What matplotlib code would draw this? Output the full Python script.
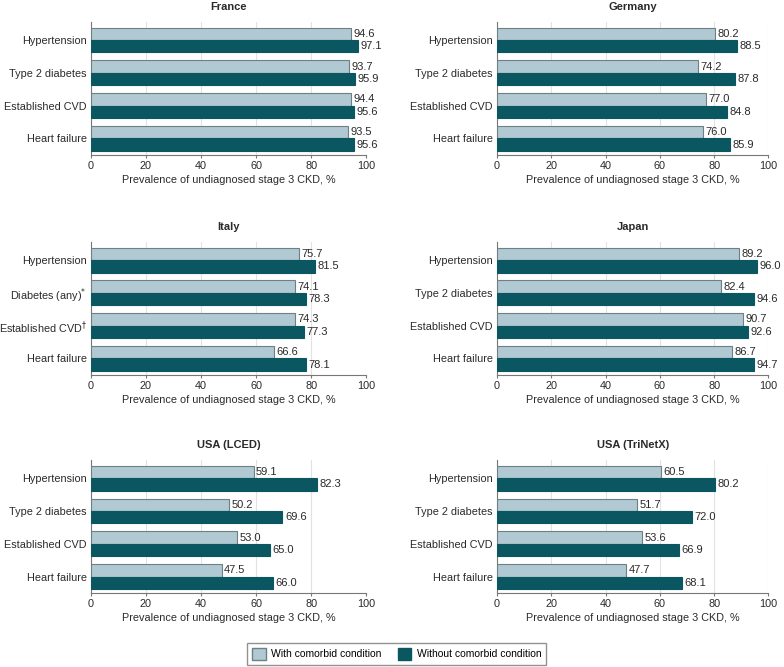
import matplotlib.pyplot as plt
from matplotlib.patches import Patch
import numpy as np

plt.rcParams['font.family'] = ['Liberation Sans', 'DejaVu Sans']

# data section
countries = ['France', 'Germany', 'Italy', 'Japan', 'USA (LCED)', 'USA (TriNetX)']
std_labels = ['Hypertension', 'Type 2 diabetes', 'Established CVD', 'Heart failure']
italy_labels = ['Hypertension', 'Diabetes (any)$^{*}$', 'Established CVD$^{\\dagger}$', 'Heart failure']

france_with = [94.6, 93.7, 94.4, 93.5]
france_without = [97.1, 95.9, 95.6, 95.6]
germany_with = [80.2, 74.2, 77.0, 76.0]
germany_without = [88.5, 87.8, 84.8, 85.9]
italy_with = [75.7, 74.1, 74.3, 66.6]
italy_without = [81.5, 78.3, 77.3, 78.1]
japan_with = [89.2, 82.4, 90.7, 86.7]
japan_without = [96.0, 94.6, 92.6, 94.7]
lced_with = [59.1, 50.2, 53.0, 47.5]
lced_without = [82.3, 69.6, 65.0, 66.0]
trinetx_with = [60.5, 51.7, 53.6, 47.7]
trinetx_without = [80.2, 72.0, 66.9, 68.1]

panels = [
    (france_with, france_without, std_labels),
    (germany_with, germany_without, std_labels),
    (italy_with, italy_without, italy_labels),
    (japan_with, japan_without, std_labels),
    (lced_with, lced_without, std_labels),
    (trinetx_with, trinetx_without, std_labels),
]

light = '#b1c9d2'
dark = '#0b5761'
edge = '#6f7f86'
txt = '#2a2a2a'

fig = plt.figure(figsize=(7.84, 6.67), dpi=100)

lefts = [0.116, 0.634]
widths = [0.351, 0.346]
bottoms = [0.768, 0.438, 0.111]
height = 0.199

h = 0.38
for i, (country, (w, wo, labels)) in enumerate(zip(countries, panels)):
    col = i % 2
    row = i // 2
    ax = fig.add_axes([lefts[col], bottoms[row], widths[col], height])
    y = np.arange(len(labels))
    ax.barh(y - h / 2, w, height=h, color=light, edgecolor=edge, linewidth=0.8, zorder=3)
    ax.barh(y + h / 2, wo, height=h, color=dark, edgecolor=dark, linewidth=0.8, zorder=3)
    # value labels next to each bar
    for yy, v in zip(y, w):
        ax.text(v + 0.9, yy - h / 2, f'{v:.1f}', va='center', ha='left', fontsize=8, color=txt)
    for yy, v in zip(y, wo):
        ax.text(v + 0.9, yy + h / 2, f'{v:.1f}', va='center', ha='left', fontsize=8, color=txt)
    ax.set_xlim(0, 100)
    ax.set_ylim(3.5, -0.55)
    ax.set_yticks(y)
    ax.set_yticklabels(labels, fontsize=7.8, color=txt)
    ax.set_xticks([0, 20, 40, 60, 80, 100])
    ax.tick_params(axis='x', labelsize=7.8, colors=txt, length=2.5, color='#777777', pad=2)
    ax.tick_params(axis='y', length=0, pad=3)
    ax.xaxis.grid(True, color='#e2e2e2', linewidth=0.8, zorder=0)
    ax.set_axisbelow(True)
    for s in ['top', 'right']:
        ax.spines[s].set_visible(False)
    for s in ['left', 'bottom']:
        ax.spines[s].set_color('#777777')
        ax.spines[s].set_linewidth(0.8)
    ax.set_xlabel('Prevalence of undiagnosed stage 3 CKD, %', fontsize=7.8, color=txt, labelpad=3)
    ax.set_title(country, fontsize=8, fontweight='bold', color=txt, pad=9)

handles = [Patch(facecolor=light, edgecolor=edge, label='With comorbid condition'),
           Patch(facecolor=dark, edgecolor=dark, label='Without comorbid condition')]
fig.legend(handles=handles, loc='center', bbox_to_anchor=(0.506, 0.0195), ncol=2, fontsize=7.5,
           frameon=True, fancybox=False, edgecolor='#777777', handlelength=1.3, handleheight=1.3,
           columnspacing=1.6, borderpad=0.5, handletextpad=0.5)

fig.savefig('out.png', dpi=100)
